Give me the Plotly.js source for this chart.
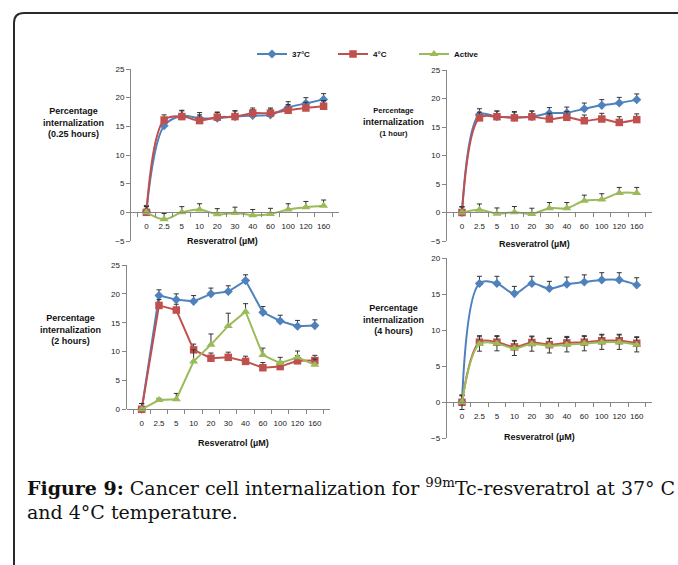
<!DOCTYPE html>
<html>
<head>
<meta charset="utf-8">
<script src="https://cdn.plot.ly/plotly-3.0.1.min.js"></script>
<style>html,body{margin:0;padding:0;background:#fff;}#chart{width:678px;height:565px;}</style>
</head>
<body>
<div id="chart"></div>
<script>
// ---------- DATA ----------
const categories = ['0', '2.5', '5', '10', '20', '30', '40', '60', '100', '120', '160'];
const seriesNames = ['37°C', '4°C', 'Active'];

// 0.25 hours
const h025_37 = [0.2, 15.1, 16.8, 16.4, 16.4, 16.7, 16.9, 17.0, 18.3, 19.0, 19.7];
const h025_4 = [0.0, 16.1, 16.7, 16.0, 16.6, 16.7, 17.3, 17.3, 17.8, 18.2, 18.5];
const h025_act = [0.0, -1.2, 0.0, 0.5, -0.35, -0.1, -0.5, -0.3, 0.5, 0.9, 1.15];
const h025_37_err = [1.0, 1.0, 1.0, 1.0, 1.0, 1.0, 1.0, 1.0, 1.0, 1.0, 1.0];
const h025_4_err = [1.0, 0.9, 1.0, 1.0, 0.9, 1.0, 0.9, 0.9, 1.0, 1.0, 1.0];
const h025_act_err = [1.0, 1.0, 1.0, 1.0, 1.0, 1.0, 1.0, 1.0, 1.0, 1.0, 1.0];

// 1 hour
const h1_37 = [0.0, 17.2, 16.8, 16.7, 16.8, 17.4, 17.5, 18.2, 18.8, 19.2, 19.8];
const h1_4 = [0.0, 16.6, 16.8, 16.6, 16.8, 16.4, 16.7, 16.1, 16.4, 15.8, 16.3];
const h1_act = [0.0, 0.5, -0.2, 0.05, -0.25, 0.75, 0.75, 2.05, 2.3, 3.4, 3.4];
const h1_37_err = [1.0, 1.0, 1.0, 1.0, 1.0, 1.0, 1.0, 1.0, 1.0, 1.0, 1.0];
const h1_4_err = [1.0, 1.0, 1.0, 1.0, 1.0, 1.0, 1.0, 1.0, 1.0, 1.0, 1.0];
const h1_act_err = [1.0, 1.0, 1.0, 1.0, 1.0, 1.0, 1.0, 1.0, 1.0, 1.0, 1.0];

// 2 hours
const h2_37 = [0.0, 19.7, 19.0, 18.7, 20.0, 20.4, 22.3, 16.8, 15.3, 14.4, 14.5];
const h2_4 = [0.0, 18.0, 17.2, 10.3, 8.85, 9.0, 8.3, 7.2, 7.4, 8.4, 8.45];
const h2_act = [0.0, 1.6, 1.75, 8.3, 11.2, 14.45, 16.9, 9.4, 8.0, 9.0, 7.7];
const h2_37_err = [1.0, 1.0, 1.0, 1.0, 1.0, 1.0, 1.0, 1.0, 1.0, 1.0, 1.0];
const h2_4_err = [1.0, 1.0, 1.0, 1.0, 0.9, 0.9, 0.9, 0.9, 0.9, 0.9, 0.9];
const h2_act_err = [1.0, 0.3, 1.0, 2.0, 1.85, 2.2, 1.4, 1.2, 1.0, 1.1, 1.0];

// 4 hours
const h4_37 = [0.0, 16.5, 16.5, 15.1, 16.5, 15.8, 16.4, 16.7, 17.0, 17.0, 16.3];
const h4_4 = [0.0, 8.35, 8.35, 7.7, 8.3, 8.0, 8.25, 8.35, 8.55, 8.55, 8.2];
const h4_act = [0.0, 8.1, 8.15, 7.5, 8.1, 7.85, 8.0, 8.15, 8.35, 8.35, 8.0];
const h4_37_err = [1.0, 1.0, 1.0, 1.0, 1.0, 1.0, 1.0, 1.0, 1.0, 1.0, 1.0];
const h4_4_err = [0.9, 0.9, 0.9, 0.9, 0.9, 0.9, 0.9, 0.9, 0.9, 0.9, 0.9];
const h4_act_err = [1.0, 1.0, 1.0, 1.0, 1.0, 1.0, 1.0, 1.0, 1.0, 1.0, 1.0];

const panelTitles = [
  'Percentage<br>internalization<br>(0.25 hours)',
  '<span style="font-size:7.5px">Percentage</span><br>internalization<br><span style="font-size:7.5px">(1 hour)</span>',
  'Percentage<br>internalization<br>(2 hours)',
  'Percentage<br>internalization<br>(4 hours)'
];
const xTitle = 'Resveratrol (µM)';
const captionLines = [
  '<b>Figure 9:</b> Cancer cell internalization for <sup>99m</sup>Tc-resveratrol at 37° C',
  'and 4°C temperature.'
];

// ---------- STYLE ----------
const W = 678, H = 565;
const px = v => v / W;
const py = v => 1 - v / H;
const colors = ['#4F81BD', '#C0504D', '#9BBB59'];
const symbols = ['diamond', 'square', 'triangle-up'];
const msizes = [7, 7.5, 8];
const FONT = 'Liberation Sans, Arial, sans-serif';

const panels = [
  {data: [h025_37, h025_4, h025_act], err: [h025_37_err, h025_4_err, h025_act_err], smooth: true, sym: [false, false, false]},
  {data: [h1_37, h1_4, h1_act], err: [h1_37_err, h1_4_err, h1_act_err], smooth: true, sym: [false, false, false]},
  {data: [h2_37, h2_4, h2_act], err: [h2_37_err, h2_4_err, h2_act_err], smooth: false, sym: [false, false, false]},
  {data: [h4_37, h4_4, h4_act], err: [h4_37_err, h4_4_err, h4_act_err], smooth: true, sym: [false, false, true]}
];

// geometry in pixels
const geo = [
  {x0: 131, x1: 339, yTop: 69, yBot: 241, range: [-5, 25], zeroY: 212, xt: [223, 241], yt: [73, 122.5]},
  {x0: 446.7, x1: 652, yTop: 70, yBot: 241, range: [-5, 25], zeroY: 212, xt: [534, 244], yt: [393, 122]},
  {x0: 126.5, x1: 330, yTop: 265, yBot: 409.3, range: [0, 25], zeroY: 409.3, xt: [233, 442.7], yt: [70, 329]},
  {x0: 446.7, x1: 652, yTop: 258.3, yBot: 438.3, range: [-5, 20], zeroY: 402, xt: [539, 436.7], yt: [393, 319.5]}
];

const traces = [];
panels.forEach((p, i) => {
  const sfx = i === 0 ? '' : String(i + 1);
  p.data.forEach((vals, s) => {
    const zeros = vals.map(() => 0);
    traces.push({
      type: 'scatter', mode: 'lines+markers',
      x: categories, y: vals,
      xaxis: 'x' + sfx, yaxis: 'y' + sfx,
      name: seriesNames[s], legendgroup: seriesNames[s], showlegend: i === 0,
      line: {color: colors[s], width: 2, shape: p.smooth ? 'spline' : 'linear', smoothing: 1},
      marker: {symbol: symbols[s], size: msizes[s], color: colors[s]},
      error_y: {type: 'data', symmetric: p.sym[s], array: p.err[s], arrayminus: p.sym[s] ? p.err[s] : zeros,
                color: '#333', thickness: 1, width: 2.5},
      cliponaxis: false
    });
  });
});

const layout = {
  width: W, height: H,
  margin: {l: 0, r: 0, t: 0, b: 0},
  paper_bgcolor: '#fff', plot_bgcolor: 'rgba(0,0,0,0)',
  font: {family: FONT, size: 8, color: '#222'},
  showlegend: true,
  legend: {orientation: 'h', x: px(252), xanchor: 'left', y: py(54), yanchor: 'middle',
           font: {family: FONT, size: 8, weight: 'bold', color: '#111'},
           itemwidth: 30, entrywidth: 36, bgcolor: 'rgba(0,0,0,0)', traceorder: 'normal'},
  annotations: [],
  shapes: [{
    type: 'path', xref: 'paper', yref: 'paper',
    path: `M ${px(14)} ${py(565)} L ${px(14)} ${py(23)} Q ${px(14)} ${py(13)} ${px(24)} ${py(13)} L ${px(678)} ${py(13)}`,
    line: {color: '#2a2a2a', width: 2}
  }]
};

geo.forEach((g, i) => {
  const sfx = i === 0 ? '' : String(i + 1);
  layout['xaxis' + sfx] = {
    type: 'category', domain: [px(g.x0), px(g.x1)], anchor: 'free', position: py(g.zeroY),
    showline: true, linecolor: '#868686', linewidth: 1,
    ticks: 'outside', tickson: 'boundaries', ticklen: 4, tickcolor: '#868686',
    showgrid: false, zeroline: false, tickfont: {family: FONT, size: 8, color: '#222'},
    tickangle: 0, ticklabelstandoff: 6, fixedrange: true
  };
  layout['yaxis' + sfx] = {
    domain: [py(g.yBot), py(g.yTop)], range: g.range, anchor: 'x' + sfx,
    dtick: 5, tick0: 0, showline: true, linecolor: '#868686', linewidth: 1,
    ticks: 'outside', ticklen: 4, tickcolor: '#868686',
    showgrid: false, zeroline: false, tickfont: {family: FONT, size: 8, color: '#222'},
    fixedrange: true
  };
  layout.annotations.push({
    text: xTitle, xref: 'paper', yref: 'paper', x: px(g.xt[0]), y: py(g.xt[1]),
    xanchor: 'center', yanchor: 'middle', showarrow: false,
    font: {family: FONT, size: 9, weight: 'bold', color: '#111'}
  });
  layout.annotations.push({
    text: panelTitles[i], xref: 'paper', yref: 'paper', x: px(g.yt[0]), y: py(g.yt[1]),
    xanchor: 'center', yanchor: 'middle', align: 'center', showarrow: false,
    font: {family: FONT, size: 9, weight: 'bold', color: '#111'}
  });
});

const capY = [487, 511.5];
captionLines.forEach((t, k) => {
  layout.annotations.push({
    text: t, xref: 'paper', yref: 'paper', x: px(25), y: py(capY[k]),
    xanchor: 'left', yanchor: 'middle', align: 'left', showarrow: false,
    font: {family: 'DejaVu Serif, serif', size: 19, color: '#111'}
  });
});

Plotly.newPlot('chart', traces, layout, {staticPlot: true, displayModeBar: false});
</script>
</body>
</html>
